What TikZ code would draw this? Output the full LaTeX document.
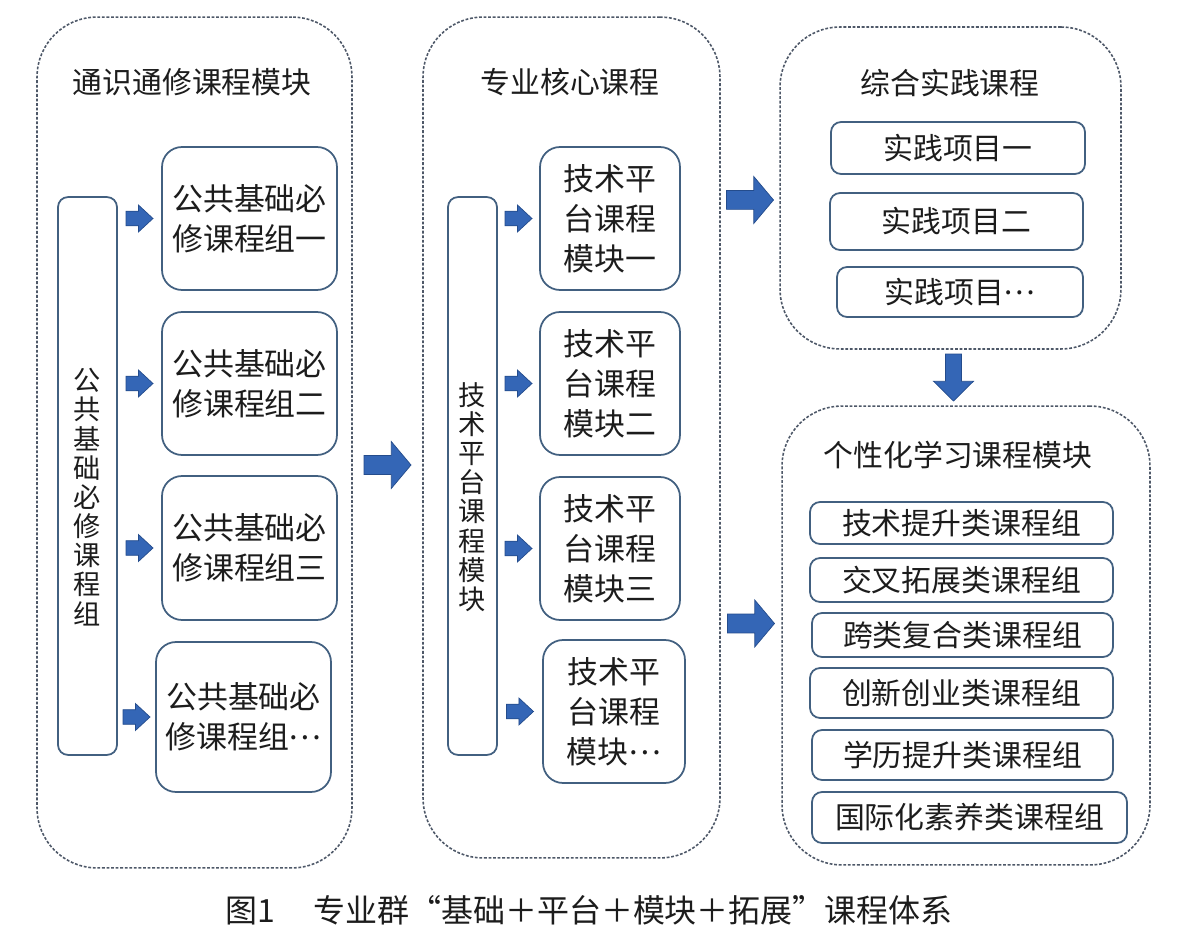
\documentclass[tikz,border=0pt]{standalone}
\usepackage{fontspec}
\setmainfont{Noto Sans CJK SC}
\usepackage{tikz}
\usetikzlibrary{calc,positioning}
\definecolor{azulBorde}{RGB}{66,96,128}
\definecolor{grisPunto}{RGB}{78,88,104}
\definecolor{azulFlecha}{RGB}{52,102,182}
\definecolor{azulFlechaOsc}{RGB}{36,76,140}
\definecolor{tinta}{RGB}{28,28,28}
\newcommand{\fcaja}{\fontsize{17.6}{22.8}\selectfont}
\newcommand{\ftit}{\fontsize{17}{20}\selectfont}
\newcommand{\fvert}{\fontsize{15.5}{16.6}\selectfont}
\newcommand{\fpie}{\fontsize{18.2}{20}\selectfont}
\newcommand{\puntos}{\raisebox{0.3em}{…}}
\tikzstyle{modulo}=[draw=grisPunto, dash pattern=on 1.6pt off 1pt,
                    line width=0.9pt, rounded corners=1.2cm,
                    inner sep=0pt]
\tikzstyle{caja}  =[draw=azulBorde, line width=1pt, rounded corners=0.4cm,
                    align=center, inner sep=0pt, font=\fcaja, text=tinta]
\tikzstyle{barra} =[draw=azulBorde, line width=1pt, rounded corners=0.2cm,
                    inner sep=0pt]
\tikzstyle{fila}  =[draw=azulBorde, line width=1pt, rounded corners=0.2cm,
                    inner sep=0pt, font=\ftit, text=tinta]
\tikzstyle{titulo}=[font=\ftit, text=tinta, inner sep=0pt]
\tikzstyle{vtexto}=[font=\fvert, text=tinta, align=center, inner sep=0pt]
\tikzset{
  flecha/.pic={\draw[fill=azulFlecha, draw=azulFlechaOsc, line width=0.4pt]
    (-0.5,-0.2) -- (0.08,-0.2) -- (0.08,-0.5) -- (0.5,0) -- (0.08,0.5)
    -- (0.08,0.2) -- (-0.5,0.2) -- cycle;},
  flechita/.pic={\draw[fill=azulFlecha, draw=azulFlechaOsc, line width=0.4pt]
    (-0.5,-0.27) -- (-0.04,-0.27) -- (-0.04,-0.5) -- (0.5,0) -- (-0.04,0.5)
    -- (-0.04,0.27) -- (-0.5,0.27) -- cycle;}
}
\begin{document}
\begin{tikzpicture}[x=0.02cm, y=-0.02cm]
    \useasboundingbox[fill=white] (0,0) rectangle (1184,942);

    % modulos
    \node[modulo, minimum width=6.30cm, minimum height=17.02cm] (grp)  at (194.5,442.5) {};
    \node[modulo, minimum width=5.94cm, minimum height=16.82cm] (core) at (571.5,437.5) {};
    \node[modulo, minimum width=6.82cm, minimum height=6.44cm]  (prac) at (950.5,188) {};
    \node[modulo, minimum width=7.36cm, minimum height=9.18cm]  (pers) at (966,635.5) {};

    \node[titulo] (tgrp)  at (192,82)  {通识通修课程模块};
    \node[titulo] (tcore) at (570,82)  {专业核心课程};
    \node[titulo] (tprac) at (950,83)  {综合实践课程};
    \node[titulo] (tpers) at (958,455) {个性化学习课程模块};

    % bloque izquierdo
    \node[barra, minimum width=1.18cm, minimum height=11.16cm] (gtall) at (87.5,476) {};
    \node[vtexto] (gtxt) at ($(gtall)+(0,21)$) {公\\共\\基\\础\\必\\修\\课\\程\\组};
    \foreach \i/\x/\y/\h/\t in
        {1/249.5/218.5/2.86/一, 2/249.5/383.5/2.86/二,
         3/249.5/548/2.88/三, 4/243.5/717/3.00/\puntos}
        \node[caja, minimum width=3.5cm, minimum height=\h cm] (g\i) at (\x,\y)
            {公共基础必\\修课程组\t};
    \foreach \i in {1,...,4}
        \pic[scale=27] at ($(gtall.east |- g\i.west)!0.5!(g\i.west)$) {flechita};

    % bloque central
    \node[barra, minimum width=0.98cm, minimum height=11.16cm] (mtall) at (472.5,476) {};
    \node[vtexto] (mtxt) at ($(mtall)+(0,21)$) {技\\术\\平\\台\\课\\程\\模\\块};
    \foreach \i/\x/\y/\w/\t in
        {1/610/218.5/2.80/一, 2/610/383.5/2.80/二,
         3/610/548.5/2.80/三, 4/614/711.5/2.84/\puntos}
        \node[caja, minimum width=\w cm, minimum height=2.86cm] (m\i) at (\x,\y)
            {技术平\\台课程\\模块\t};
    \foreach \i in {1,...,4}
        \pic[scale=27] at ($(mtall.east |- m\i.west)!0.5!(m\i.west)$) {flechita};

    % practica
    \foreach \i/\x/\y/\w/\h/\t in
        {1/958/148/5.08/1.04/实践项目一, 2/956.5/221.5/5.06/1.14/实践项目二,
         3/960/292/4.92/1.00/实践项目\puntos}
        \node[fila, minimum width=\w cm, minimum height=\h cm] (p\i) at (\x,\y) {\t};

    % personalizado
    \foreach \i/\x/\y/\w/\h/\t in
        {1/961.5/523/6.06/0.84/技术提升类课程组,
         2/961.5/580/6.06/0.88/交叉拓展类课程组,
         3/962.5/635/6.02/0.88/跨类复合类课程组,
         4/961.5/693/6.06/1.00/创新创业类课程组,
         5/962.5/755/6.02/1.00/学历提升类课程组,
         6/969.5/817.5/6.30/1.02/国际化素养类课程组}
        \node[fila, minimum width=\w cm, minimum height=\h cm] (c\i) at (\x,\y) {\t};

    % flechas grandes
    \pic[scale=47] at ($(grp.east)!0.5!(core.west)+(0,25)$) {flecha};
    \pic[scale=47] at ($(core.east |- prac.west)!0.5!(prac.west)+(0,12)$) {flecha};
    \pic[scale=47] at ($(core.east |- pers.west)!0.5!(pers.west)+(0,-12)$) {flecha};
    \pic[rotate=-90, xscale=47, yscale=40]
        at ($(prac.south)!0.5!(prac.south |- pers.north)+(3,0)$) {flecha};

    \node[font=\fpie, text=tinta, inner sep=0pt] (pie) at (589,910)
        {图1\hspace{1.2em}专业群“基础＋平台＋模块＋拓展”课程体系};
\end{tikzpicture}
\end{document}
